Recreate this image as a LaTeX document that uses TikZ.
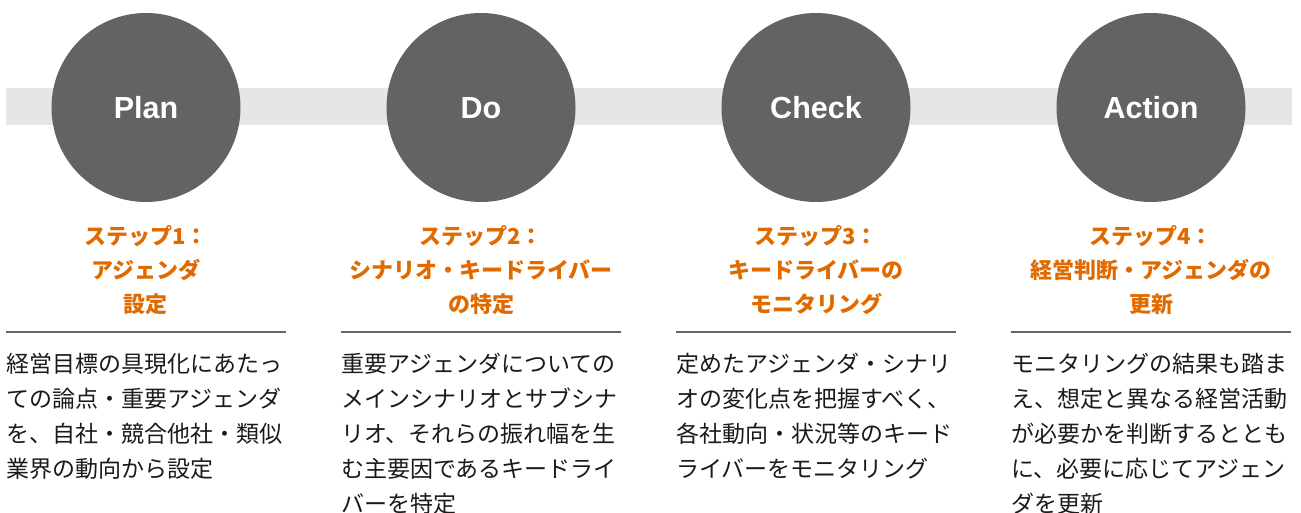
\documentclass[tikz,border=0pt]{standalone}
\usepackage{fontspec}
\setmainfont{Liberation Sans}
\newfontfamily\cjk{Noto Sans CJK JP}
\definecolor{band}{HTML}{E6E6E6}
\definecolor{circ}{HTML}{636363}
\definecolor{rule}{HTML}{666666}
\definecolor{orng}{HTML}{E06A00}
\definecolor{txt}{HTML}{1A1A1A}
\tikzset{
  phase/.style={circle,fill=circ,minimum size=189pt,inner sep=0pt},
  phaselabel/.style={anchor=base,inner sep=0pt,text=white,font=\fontsize{30.5}{30}\selectfont\bfseries},
  steptitle/.style={anchor=base,inner sep=0pt,text=orng},
  stepbody/.style={anchor=base west,inner sep=0pt,text=txt},
  steprule/.style={draw=rule,line width=2pt}
}
\newcommand{\ttl}[1]{\parbox[t]{320pt}{\centering\cjk\bfseries\fontsize{22}{34}\selectfont #1}}
\newcommand{\bdy}[1]{\parbox[t]{320pt}{\raggedright\cjk\fontsize{23}{35}\selectfont #1}}
\begin{document}
\begin{tikzpicture}[x=1pt,y=-1pt]
\useasboundingbox (0,0) rectangle (1301,513);
\fill[band] (6,88) rectangle (1292,125);
\foreach \n/\cx/\lab in {1/146/Plan,2/481/Do,3/816/Check,4/1151/Action}{
  \node[phase] (c\n) at (\cx,107.5) {};
  \node[phaselabel] (l\n) at (\cx,119) {\lab};
}
\node[steptitle] (t1) at (146,244) {\ttl{ステップ1：\\アジェンダ\\設定}};
\node[steptitle] (t2) at (481,244) {\ttl{ステップ2：\\シナリオ・キードライバー\\の特定}};
\node[steptitle] (t3) at (816,244) {\ttl{ステップ3：\\キードライバーの\\モニタリング}};
\node[steptitle] (t4) at (1151,244) {\ttl{ステップ4：\\経営判断・アジェンダの\\更新}};
\foreach \n/\x in {1/6,2/341,3/676,4/1011}{
  \coordinate (ra\n) at (\x,332);
  \coordinate (rb\n) at (\x+280,332);
  \draw[steprule] (ra\n) -- (rb\n);
}
\node[stepbody] (b1) at (6,372) {\bdy{経営目標の具現化にあたっ\\ての論点・重要アジェンダ\\を、自社・競合他社・類似\\業界の動向から設定}};
\node[stepbody] (b2) at (341,372) {\bdy{重要アジェンダについての\\メインシナリオとサブシナ\\リオ、それらの振れ幅を生\\む主要因であるキードライ\\バーを特定}};
\node[stepbody] (b3) at (676,372) {\bdy{定めたアジェンダ・シナリ\\オの変化点を把握すべく、\\各社動向・状況等のキード\\ライバーをモニタリング}};
\node[stepbody] (b4) at (1011,372) {\bdy{モニタリングの結果も踏ま\\え、想定と異なる経営活動\\が必要かを判断するととも\\に、必要に応じてアジェン\\ダを更新}};
\end{tikzpicture}
\end{document}
